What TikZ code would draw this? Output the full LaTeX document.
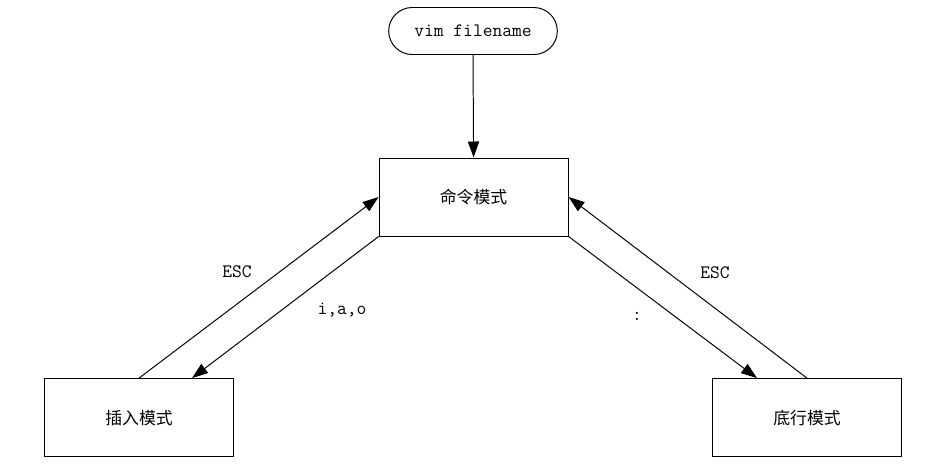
\documentclass[tikz,border=0pt]{standalone}
\usepackage{fontspec}
\setmainfont{Noto Sans CJK SC}
\setmonofont{Latin Modern Mono}
\usepackage{tikz}
\usetikzlibrary{positioning, arrows.meta, shapes.misc, calc}

\begin{document}
\begin{tikzpicture}[
  line width=0.7pt,
  start/.style={draw, rounded rectangle, minimum width=4.45cm,
                minimum height=1.175cm, font=\ttfamily\fontsize{13.5}{15}\selectfont},
  mode/.style={draw, rectangle, minimum width=4.725cm,
               minimum height=1.95cm, font=\fontsize{12}{14}\selectfont},
  trans/.style={-{Triangle[length=4mm, width=2.8mm]}},
  lbl/.style={font=\ttfamily\fontsize{13.5}{15}\selectfont},
]
  \useasboundingbox (0,0) rectangle (23.5,-11.85);

  \node[start] (vim) at (11.825, -0.775) {vim filename};
  \node[mode] (cmd) at (11.84, -4.925) {命令模式};
  \node[mode] (ins) at (3.475, -10.44) {插入模式};
  \node[mode] (last) at (20.175, -10.44) {底行模式};

  \draw[trans] (vim.south) -- (cmd.north);

  % insert mode
  \draw[trans] (ins.north) -- (cmd.west);
  \draw[trans] (cmd.south west) -- ($(ins.north) + (1.325, 0)$);
  \node[lbl] (escL) at (5.925, -6.8) {ESC};
  \node[lbl] (iao) at (8.55, -7.75) {i,a,o};

  % last line mode
  \draw[trans] (last.north) -- (cmd.east);
  \draw[trans] (cmd.south east) -- ($(last.north) + (-1.25, 0)$);
  \node[lbl] (escR) at (17.875, -6.825) {ESC};
  \node[lbl] (colon) at (15.925, -7.9) {:};
\end{tikzpicture}
\end{document}
